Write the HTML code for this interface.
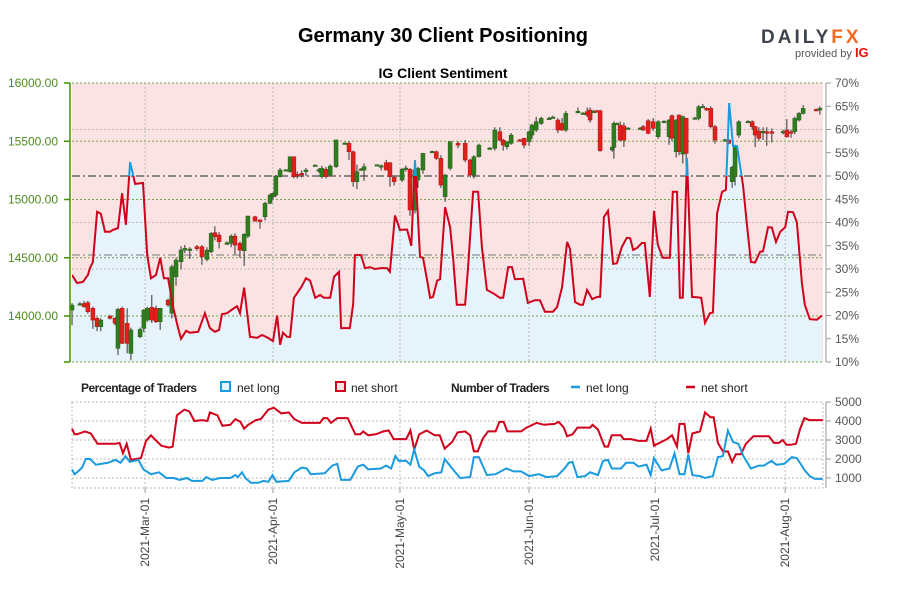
<!DOCTYPE html>
<html><head><meta charset="utf-8"><style>
body{margin:0;background:#fff;font-family:"Liberation Sans",sans-serif}
svg text{font-family:"Liberation Sans",sans-serif}
</style></head><body>
<svg id="chart" width="900" height="600" viewBox="0 0 900 600" xmlns="http://www.w3.org/2000/svg">
<rect width="900" height="600" fill="#fff"/>
<text x="443" y="42" text-anchor="middle" font-size="20" font-weight="bold" fill="#000">Germany 30 Client Positioning</text>
<g>
<text x="761" y="43" font-size="19" font-weight="bold" letter-spacing="3" fill="#3d4450">DAILY<tspan fill="#f26b21">FX</tspan></text>
<text x="795" y="57" font-size="11" fill="#555">provided by <tspan fill="#e3120b" font-weight="bold" font-size="13">IG</tspan></text>
</g>
<text x="443" y="78" text-anchor="middle" font-size="14" font-weight="bold" fill="#000">IG Client Sentiment</text>
<defs>
<clipPath id="clipAbove"><rect x="72" y="60" width="751" height="116"/></clipPath>
<clipPath id="clipBelow"><rect x="72" y="176" width="751" height="200"/></clipPath>
</defs>
<g id="main"></g>
<g id="legend">
<text x="81" y="392" font-size="12" font-weight="bold" fill="#222" letter-spacing="-0.5">Percentage of Traders</text>
<rect x="221" y="382" width="9" height="9" fill="#e6f3fb" stroke="#1a9be0" stroke-width="2"/>
<text x="237" y="392" font-size="12" fill="#222">net long</text>
<rect x="336" y="382" width="9" height="9" fill="#fbe3e4" stroke="#d0021b" stroke-width="2"/>
<text x="351" y="392" font-size="12" fill="#222">net short</text>
<text x="451" y="392" font-size="12" font-weight="bold" fill="#222" letter-spacing="-0.5">Number of Traders</text>
<line x1="571" y1="387" x2="580" y2="387" stroke="#1a9be0" stroke-width="2.5"/>
<text x="586" y="392" font-size="12" fill="#222">net long</text>
<line x1="686" y1="387" x2="695" y2="387" stroke="#d0021b" stroke-width="2.5"/>
<text x="701" y="392" font-size="12" fill="#222">net short</text>
</g>
<g id="bottom"></g>
</svg>
<script>
// ---------- data ----------
const sentDay=[0,1.2,2.6,3.8,4.3,5,6,6.9,7.9,9.1,9.8,11,12,12.9,13.9,15.1,17,18,18.9,20.1,21.1,22,23,24.2,25.4,26.1,27.3,28.2,30.2,31.8,33,34.2,35.2,35.9,37.1,38.5,39.5,40.2,41.2,42.6,44.3,45.5,46.9,48.1,49.1,49.8,50.5,51.5,52.2,53.1,54.8,56,57,58.2,59.4,60.3,61.8,62.7,63.9,64.4,66.5,67.3,67.7,69.2,70.1,71.3,72.5,74,75.4,76.1,77.3,78.5,80.2,81.2,82.1,83.3,84,85,85.7,86.4,87.4,88.1,89.3,90.5,91.2,92.1,94.1,94.8,96,97.2,98.1,99.3,100.8,102.4,103.2,104.4,105.3,106,108,109.1,110.8,112,113.2,115.1,116.1,117.3,118.5,119.2,120.4,121.6,122.3,123.3,124.5,125.7,126.4,127.3,128.3,129.5,130.4,131.6,132.8,133.6,134.3,135.2,136.4,137.1,138.3,139.3,140.2,141.4,143.1,143.8,144.8,145.5,146.2,147.2,148.4,149.8,150.6,151.5,152.7,153.4,154.4,155.6,156.5,157.3,158.2,159.2,160.6,161.6,162.5,163.5,164.7,165.4,166.6,167.5,168.5,169.5,170.7,171.4,172.6,173.5,174.7,175.4,176.6,178.3,179.5];
const sentPct=[28.7,27,27.2,28.7,30.2,31.5,42.3,41.9,38,38,38.4,38.8,46.3,39.5,53,48.3,48.5,33,28,28.7,32.4,28,28,21.8,17.3,15,16.7,16.3,16.5,20.5,17.3,16.5,16.9,20.3,20.5,21.4,22,20.5,26,15.4,15.2,15.8,15.2,14.5,20,13.7,16.3,15.4,15.4,23.8,26,28,27.5,23.8,24.4,23.8,23.8,28.3,29.4,17.3,17.3,22.5,33,33,30.2,30.4,30,30.2,30.2,29.4,41.5,38.4,38.5,35,53.4,32.6,32.4,27.6,23.8,24,27.5,27.8,43.3,39,32.6,22.3,22.3,30.4,46.6,46.6,34.7,25.5,24.8,23.8,23.8,30.4,30.4,27.8,27.9,22.7,23.3,23.3,20.8,20.8,21.8,26.1,35.8,34.3,22.9,22.3,22.3,25.5,23.5,24,24,41.2,42.5,31.1,31.2,34.7,36.7,36.6,34.1,34.5,35.6,35.6,24,42.5,35.2,32.4,32.4,46.6,46.6,23.8,23.8,53.9,24,23.9,23.8,18.4,20.5,20.6,42,46.6,47,65.7,56.5,56.4,48,39,31.5,31.4,33.7,33.8,39,38.9,35.8,38,39,42.3,42.2,40,27,22.3,19.2,19.1,20];

const cDay=[0,1.9,2.9,3.8,5,6,6.9,9.1,10.3,11,12,13.2,14.1,16.3,17.2,18,19.1,20.1,21.1,23,23.9,24.9,26.1,27,28.2,29.9,31.1,32.3,33.3,34.2,35.2,37.1,38.1,39,40.2,41.2,42.1,43.8,45,46.2,47.4,48.1,48.8,49.8,51.2,52.2,53.1,53.9,55,56,58.2,59.1,59.8,60.8,61.8,63.2,65.3,66.3,67.3,68.2,69.2,69.9,73,74,75.2,76.1,77.1,79,79.9,80.9,82.1,82.8,84,86.2,87.2,88.3,89.3,90.5,92.4,94.1,95.3,96.2,97.4,100,101.2,102.4,103.2,104.1,105.1,107.2,108.2,109.4,110.1,111.1,112.3,114.2,115.1,116.3,117.3,118.2,121.1,122.3,123.3,124,124.9,125.7,126.4,129.3,129.7,130.4,131.2,132.1,133.1,136,136.7,137.9,139.1,140.3,141.7,142.9,143.6,144.6,145.3,146.2,147,149.1,150,151,151.9,152.9,153.9,156.3,157.2,158,158.7,159.6,161.8,162.8,163.5,164.4,165.4,166.3,167.5,170.2,171.1,172.1,173,174,175,178.1,179];
const cOpen=[14051,14100,14108,14114,14066,13980,13908,14000,13980,13722,14066,13937,13679,13822,13894,13965,14074,14066,13951,14137,14023,14337,14466,14566,14572,14595,14595,14486,14552,14715,14695,14615,14624,14686,14624,14560,14686,14852,14824,14852,14967,15024,15038,15196,15250,15239,15367,15215,15224,15239,15290,15250,15196,15259,15210,15282,15482,15482,15410,15153,15259,15253,15296,15287,15316,15316,15190,15167,15267,15259,14910,15167,15253,15410,15410,15353,15024,15267,15482,15482,15339,15210,15367,15439,15439,15582,15510,15453,15482,15512,15525,15496,15553,15596,15653,15694,15705,15682,15653,15596,15754,15739,15754,15768,15754,15762,15762,15425,15447,15650,15639,15631,15611,15611,15625,15676,15668,15539,15668,15539,15719,15410,15725,15390,15697,15697,15697,15796,15782,15782,15625,15510,15510,15153,15196,15553,15668,15668,15625,15588,15582,15582,15582,15578,15596,15582,15582,15682,15739,15773,15768];
const cClose=[14094,14105,14080,14037,13965,13908,13965,13980,13937,14057,13765,13765,13880,13885,14051,14066,13965,13951,14066,14094,14423,14480,14566,14580,14575,14578,14509,14566,14709,14681,14638,14629,14686,14609,14566,14701,14858,14815,14820,14967,15038,15053,15201,15253,15256,15367,15196,15205,15220,15253,15296,15256,15267,15196,15287,15511,15485,15410,15153,15239,15262,15282,15299,15290,15253,15196,15153,15259,15270,14910,15253,15267,15396,15413,15353,15124,15210,15496,15467,15339,15210,15367,15467,15442,15596,15510,15467,15496,15553,15508,15467,15582,15639,15668,15696,15698,15708,15596,15596,15739,15757,15742,15725,15682,15757,15754,15419,15447,15653,15655,15510,15510,15614,15614,15596,15568,15611,15668,15671,15682,15525,15682,15410,15711,15396,15700,15796,15799,15768,15625,15510,15513,15482,15276,15453,15668,15671,15625,15553,15525,15585,15568,15568,15584,15539,15568,15696,15739,15782,15768,15782];
const cHigh=[14110,14120,14130,14130,14080,13990,13980,14010,13990,14070,14080,14066,13900,13900,14060,14080,14180,14090,14070,14150,14440,14500,14600,14610,14590,14610,14610,14590,14720,14770,14720,14640,14700,14710,14640,14710,14860,14860,14830,14980,15050,15060,15210,15270,15260,15370,15370,15240,15250,15270,15300,15270,15290,15280,15300,15515,15490,15500,15420,15300,15270,15310,15300,15300,15340,15320,15200,15270,15290,15270,15300,15280,15400,15420,15420,15380,15220,15500,15500,15510,15350,15380,15480,15450,15620,15620,15520,15500,15570,15520,15530,15590,15650,15710,15710,15710,15720,15700,15700,15760,15790,15750,15790,15790,15770,15770,15770,15450,15670,15660,15670,15660,15620,15620,15640,15690,15700,15680,15680,15690,15730,15690,15730,15720,15700,15710,15810,15820,15790,15800,15640,15520,15520,15290,15470,15680,15680,15680,15630,15620,15620,15620,15610,15600,15690,15600,15710,15750,15810,15780,15800];
const cLow=[13920,14090,14070,14020,13890,13870,13870,13970,13920,13665,13760,13680,13620,13810,13860,13950,13940,13940,13880,14080,13980,14260,14400,14540,14490,14560,14440,14470,14540,14650,14580,14610,14590,14530,14500,14430,14670,14810,14750,14820,14960,15000,15020,15190,15245,15230,15180,15180,15190,15200,15285,15230,15180,15180,15200,15270,15475,15340,15110,15090,15250,15160,15290,15250,15250,15110,15120,15150,15240,14860,14880,15100,15220,15400,15340,15100,14980,15250,15440,15320,15190,15180,15360,15430,15420,15500,15420,15430,15470,15500,15440,15460,15520,15580,15640,15690,15700,15570,15590,15580,15740,15730,15710,15660,15750,15750,15410,15410,15350,15645,15500,15450,15600,15605,15590,15560,15590,15520,15660,15470,15500,15360,15380,15310,15290,15690,15680,15790,15760,15610,15480,15500,15475,15100,15120,15530,15660,15600,15450,15500,15510,15460,15490,15560,15530,15530,15560,15670,15730,15760,15730];

const shortDay=[0,0.6,1.2,3.1,4.5,6.1,10.4,11.4,12.2,13.1,
14.1,16.5,17.7,18.9,20.2,21.4,23.2,24.1,25.1,26.9,
28.1,29.3,31.2,32.4,33,34.8,36,37.9,39.1,40.3,
41.2,42.2,44,45.2,47,48.3,50.1,51.9,53.2,55,
59.3,60.2,61.1,62,63.5,66,67.8,69,69.7,70.9,
72.7,74.5,75.8,77,80,81,81.9,83.1,84.9,86.8,
88,89.2,91,92.3,94.1,95.3,96.2,97.1,98.4,99.6,
101.4,102.3,103.3,104.2,107.5,108.8,111.2,113,115.5,116.5,
117.7,118.5,119.8,121,124,124.6,125.9,127.5,128.3,129.2,
131.4,132,133.8,135.6,137.5,138.5,139.3,141.1,142.4,143.6,
144.8,145.4,146.6,147.5,148.5,150.3,151.5,152.8,153.6,154.6,
155.8,157,158,158.9,160.1,161.3,163.1,166.8,168,169.2,
170.1,171,172,173.3,174.3,175.3,176.5,179.7];
const shortVal=[3600,3300,3300,3450,3350,2800,2800,2850,2300,2800,
1950,2050,2950,3250,2950,2700,2600,2650,4300,4600,
4500,4000,4050,4000,4450,4300,3750,3800,4100,3950,
3600,3800,4050,4100,4600,4700,4400,4450,4100,3900,
3900,4150,4150,3900,4150,4150,3300,3300,3450,3250,
3300,3450,3500,3050,3050,3500,2500,3300,3500,3250,
3250,2550,2900,3400,3450,3250,2400,2400,3100,3450,
3450,3950,3950,3450,3450,3650,3900,3800,3850,3950,
3650,3200,3300,3650,3650,3800,3550,2650,2650,3250,
3250,3050,3050,2950,2950,3600,2700,2900,3050,3250,
2650,3850,3850,2300,3350,3450,4450,4200,4200,2850,
2400,2400,1850,2250,2250,2800,3200,3200,2850,2850,
3000,2750,2750,2800,3600,4150,4050,4050];
const longDay=[0,0.6,1.2,2.4,3.3,4.3,5.7,8.6,10.4,11.6,
12.8,13.8,15.9,17.1,18.9,20.8,22.6,24.4,25.7,27.5,
28.7,31.2,32.1,33.6,35.4,37.9,39.1,39.7,40.7,41.5,
42.8,44.6,45.8,47,48,48.9,51.9,53.2,55,56.2,
57.1,60.5,62.3,63.5,64.4,66.6,68.4,69.7,70.9,73.9,
75.2,76.4,77.4,78.2,80,81,81.9,83.1,84.3,85.2,
86.8,88.4,89.2,91,92.9,95.3,96.2,97.4,99.3,101.4,
103.9,105.7,107.5,109.4,111.8,113.6,116.1,117.9,118.9,119.8,
121,122.8,124,125.9,127.1,128.3,129.2,131.4,132.6,134.4,
135.6,137.5,138.5,139.3,141.1,143,144.2,145.4,146.6,147.5,
148.5,150.3,151.5,153.4,154.6,155.8,157,158.2,159.5,160.7,
162.5,164.4,165.6,167.4,168.6,170.5,172.3,173.5,175.4,176.6,
177.8,179.7];
const longVal=[1450,1200,1300,1550,2000,2000,1700,1800,1950,1800,
2150,1850,1950,1450,1200,1300,1000,1000,900,1000,
850,850,1050,900,1000,1000,1150,1050,1300,1000,
750,750,850,800,1150,800,850,1300,1550,1500,
1200,1250,1650,1750,900,900,1600,1700,1450,1500,
1650,1500,2150,1900,1900,1700,2500,1600,1400,1100,
1250,1300,2000,1500,1000,1050,2100,2100,1150,1200,
1500,1350,1350,1100,1200,1050,1100,1500,1800,1850,
1050,1100,1300,1150,1900,1950,1500,1500,1800,1800,
1600,1700,1150,2050,1400,1500,2300,1200,1200,2250,
1150,1100,1000,1100,2100,2150,3500,2900,2800,2150,
1500,1650,1650,1900,1700,1750,2100,2050,1400,1100,
950,950];

const priceTicks=[14000,14500,15000,15500,16000];
const pctTicks=[10,15,20,25,30,35,40,45,50,55,60,65,70];
const countTicks=[1000,2000,3000,4000,5000];
const dateTickDay=[17.5,48.1,78.5,109.4,139.6,170.7];
const dateTickLabel=["2021-Mar-01","2021-Apr-01","2021-May-01","2021-Jun-01","2021-Jul-01","2021-Aug-01"];

// ---------- scales ----------
const X0=72,X1=823;
const xS=d=>X0+d*4.178;
const yP=p=>83+(16000-p)*0.1165;
const yPct=v=>83+(70-v)*4.65;
const yC=v=>402+(5000-v)*0.019;
const NS="http://www.w3.org/2000/svg";
function mk(tag,attrs,parent){const e=document.createElementNS(NS,tag);for(const k in attrs)e.setAttribute(k,attrs[k]);parent.appendChild(e);return e;}
const main=document.getElementById('main'),bot=document.getElementById('bottom');

const bg=mk('rect',{x:X0,y:83,width:X1-X0,height:279,fill:'#fbe3e4'},main);


const pts=sentDay.map((d,i)=>xS(d).toFixed(1)+','+yPct(sentPct[i]).toFixed(1));
const area=mk('polygon',{points:xS(sentDay[0])+',362 '+pts.join(' ')+' '+xS(sentDay[sentDay.length-1])+',362',fill:'#e6f3fb'},main);



[60,40,30].forEach(v=>{mk('line',{x1:X0,x2:X1,y1:yPct(v),y2:yPct(v),stroke:'#bbb','stroke-dasharray':'2,2','stroke-width':1},main);});
priceTicks.forEach(v=>{mk('line',{x1:X0,x2:X1,y1:yP(v),y2:yP(v),stroke:'#7aa34a','stroke-dasharray':'2,2','stroke-width':1},main);});
mk('line',{x1:X0,x2:X1,y1:362,y2:362,stroke:'#7aa34a','stroke-dasharray':'2,2'},main);
dateTickDay.forEach(d=>{mk('line',{x1:xS(d),x2:xS(d),y1:83,y2:362,stroke:'#bbb','stroke-dasharray':'2,2'},main);});
mk('line',{x1:X0,x2:X1,y1:yPct(50),y2:yPct(50),stroke:'#666','stroke-dasharray':'8,3,2,3','stroke-width':1.5},main);
mk('line',{x1:X0,x2:X1,y1:yPct(33),y2:yPct(33),stroke:'#777','stroke-dasharray':'8,3,2,3','stroke-width':1},main);

const cg=mk('g',{},main);


cDay.forEach((d,i)=>{
  const x=xS(d),up=cClose[i]>=cOpen[i];
  mk('line',{x1:x,x2:x,y1:yP(cHigh[i]),y2:yP(cLow[i]),stroke:'#333','stroke-width':1},cg);
  const t=Math.min(yP(cOpen[i]),yP(cClose[i])),h=Math.max(1.5,Math.abs(yP(cOpen[i])-yP(cClose[i])));
  const b=mk('rect',{x:x-2,y:t,width:4,height:h,fill:up?'#2f7d1f':'#e0201b',stroke:up?'#255f18':'#b01010','stroke-width':0.5},cg);
  
  
});

const ld='M'+pts.join(' L');
const lr=mk('path',{d:ld,fill:'none',stroke:'#d0021b','stroke-width':2,'clip-path':'url(#clipBelow)'},main);


const lb=mk('path',{d:ld,fill:'none',stroke:'#1a9be0','stroke-width':2,'clip-path':'url(#clipAbove)'},main);



mk('line',{x1:70,x2:70,y1:83,y2:362,stroke:'#3f8f00','stroke-width':1.5},main);
priceTicks.forEach(v=>{
  mk('line',{x1:64,x2:70,y1:yP(v),y2:yP(v),stroke:'#3f8f00','stroke-width':1.5},main);
  const t=mk('text',{x:58,y:yP(v)+4,'text-anchor':'end','font-size':12,fill:'#4c8a1e'},main);
  t.textContent=v.toFixed(2);
  
  
});
mk('line',{x1:64,x2:70,y1:362,y2:362,stroke:'#3f8f00','stroke-width':1.5},main);
mk('line',{x1:826,x2:826,y1:83,y2:362,stroke:'#999','stroke-width':1},main);
pctTicks.forEach(v=>{
  mk('line',{x1:826,x2:831,y1:yPct(v),y2:yPct(v),stroke:'#999'},main);
  const t=mk('text',{x:835,y:yPct(v)+4,'font-size':12,fill:'#555'},main);
  t.textContent=v+'%';
  
  
});

mk('rect',{x:X0,y:402,width:X1-X0,height:86,fill:'#fff',stroke:'#bbb','stroke-dasharray':'2,2'},bot);
countTicks.forEach(v=>{mk('line',{x1:X0,x2:X1,y1:yC(v),y2:yC(v),stroke:'#bbb','stroke-dasharray':'2,2'},bot);});
dateTickDay.forEach(d=>{mk('line',{x1:xS(d),x2:xS(d),y1:402,y2:488,stroke:'#bbb','stroke-dasharray':'2,2'},bot);});
mk('line',{x1:826,x2:826,y1:402,y2:488,stroke:'#999'},bot);
countTicks.forEach(v=>{
  mk('line',{x1:826,x2:831,y1:yC(v),y2:yC(v),stroke:'#999'},bot);
  const t=mk('text',{x:835,y:yC(v)+4,'font-size':12,fill:'#555'},bot);
  t.textContent=v;
  
  
});
const sl=mk('path',{d:'M'+shortDay.map((d,i)=>xS(d).toFixed(1)+','+yC(shortVal[i]).toFixed(1)).join(' L'),fill:'none',stroke:'#d0021b','stroke-width':2},bot);


const ll=mk('path',{d:'M'+longDay.map((d,i)=>xS(d).toFixed(1)+','+yC(longVal[i]).toFixed(1)).join(' L'),fill:'none',stroke:'#1a9be0','stroke-width':2},bot);


dateTickDay.forEach((d,i)=>{
  const x=xS(d);
  mk('line',{x1:x,x2:x,y1:488,y2:493,stroke:'#999'},bot);
  const t=mk('text',{x:0,y:0,'text-anchor':'end','font-size':12,fill:'#444',transform:'translate('+(x+4)+',498) rotate(-90)'},bot);
  t.textContent=dateTickLabel[i];
  
  
});
</script>
</body></html>
